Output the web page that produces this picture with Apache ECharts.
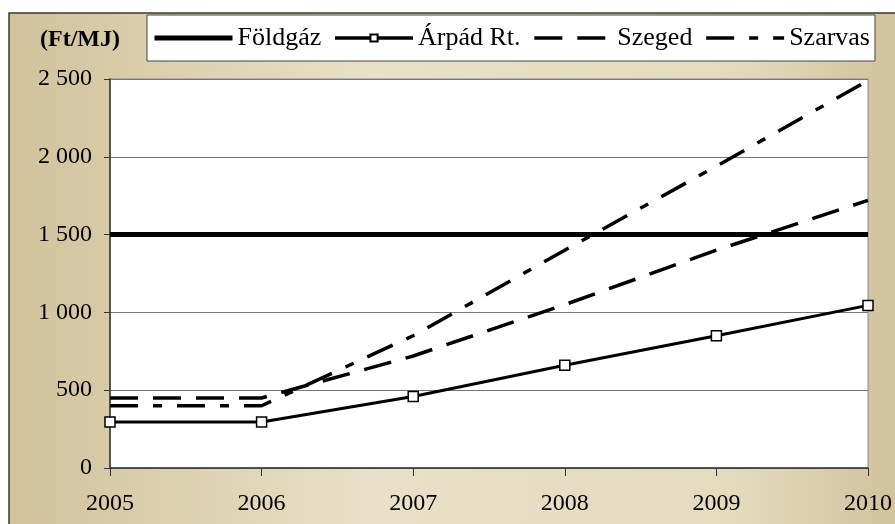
<!DOCTYPE html>
<html>
<head>
<meta charset="utf-8">
<script src="https://cdn.jsdelivr.net/npm/echarts@6/dist/echarts.min.js"></script>
<style>
  html, body { margin: 0; padding: 0; background: #fff; }
  #main { width: 895px; height: 524px; }
</style>
</head>
<body>
<div id="main"></div>
<script>
  // évek (x tengely)
  var years = ['2005', '2006', '2007', '2008', '2009', '2010']
  // árak Ft/MJ
  var foldgaz = [1500, 1500, 1500, 1500, 1500, 1500]
  var arpad = [295, 295, 460, 660, 850, 1045]
  var szeged = [450, 450, 720, 1050, 1400, 1720]
  var szarvas = [400, 400, 850, 1400, 1940, 2490]
  var yTicks = [0, 500, 1000, 1500, 2000, 2500]

  var serif = 'Liberation Serif'
  var chart = echarts.init(document.getElementById('main'))

  chart.setOption({
    animation: false,
    graphic: [{
      type: 'rect',
      z: -10,
      shape: { x: 9, y: 13, width: 900, height: 520 },
      style: {
        fill: new echarts.graphic.LinearGradient(0, 0, 1, 0, [
          { offset: 0, color: '#d1c29b' },
          { offset: 0.4, color: '#e8e0c8' },
          { offset: 0.8, color: '#e4dbbf' },
          { offset: 1, color: '#d0c09a' }
        ]),
        stroke: '#3a382c',
        lineWidth: 1.5
      }
    }],
    title: {
      text: '(Ft/MJ)',
      left: 35,
      top: 23,
      textStyle: { fontFamily: serif, fontSize: 24, fontWeight: 'bold', color: '#000' }
    },
    legend: {
      left: 147,
      top: 15,
      padding: [10, 5],
      itemWidth: 78,
      itemHeight: 9,
      itemGap: 12,
      backgroundColor: '#fff',
      borderColor: '#444',
      borderWidth: 1,
      lineStyle: { width: 'inherit' },
      textStyle: { fontFamily: serif, fontSize: 26, color: '#000', lineHeight: 26 },
      data: [
        { name: 'Földgáz', itemStyle: { opacity: 0 } },
        { name: 'Árpád Rt.', lineStyle: { width: 3.5 } },
        { name: 'Szeged', itemStyle: { opacity: 0 } },
        { name: 'Szarvas', itemStyle: { opacity: 0 } }
      ]
    },
    grid: {
      left: 110,
      right: 26,
      top: 79,
      bottom: 56,
      show: true,
      backgroundColor: '#fff',
      borderColor: '#888',
      borderWidth: 1
    },
    xAxis: {
      type: 'category',
      boundaryGap: false,
      data: years,
      axisLine: { lineStyle: { color: '#333', width: 1.5 } },
      axisTick: { show: true, length: 8, lineStyle: { color: '#333' } },
      axisLabel: { margin: 24, color: '#000', fontFamily: serif, fontSize: 24 },
      splitLine: { show: false }
    },
    yAxis: {
      type: 'value',
      min: yTicks[0],
      max: yTicks[yTicks.length - 1],
      interval: 500,
      axisLine: { show: true, lineStyle: { color: '#333', width: 1.5 } },
      axisTick: { show: true, length: 6, lineStyle: { color: '#333' } },
      axisLabel: {
        margin: 18,
        color: '#000',
        fontFamily: serif,
        fontSize: 24,
        formatter: function (v) {
          return String(v).replace(/\B(?=(\d{3})+$)/g, ' ')
        }
      },
      splitLine: { lineStyle: { color: '#777', width: 1 } }
    },
    series: [
      {
        name: 'Földgáz',
        type: 'line',
        data: foldgaz,
        symbol: 'none',
        lineStyle: { color: '#000', width: 5 },
        itemStyle: { color: '#000' }
      },
      {
        name: 'Árpád Rt.',
        type: 'line',
        data: arpad,
        symbol: 'rect',
        symbolSize: 10,
        showAllSymbol: true,
        lineStyle: { color: '#000', width: 3 },
        itemStyle: { color: '#fff', borderColor: '#000', borderWidth: 1.5 }
      },
      {
        name: 'Szeged',
        type: 'line',
        data: szeged,
        symbol: 'none',
        lineStyle: { color: '#000', width: 3.5, type: [28, 15] },
        itemStyle: { color: '#000' }
      },
      {
        name: 'Szarvas',
        type: 'line',
        data: szarvas,
        symbol: 'none',
        lineStyle: { color: '#000', width: 3.5, type: [28, 15, 9, 15] },
        itemStyle: { color: '#000' }
      }
    ]
  })
</script>
</body>
</html>
